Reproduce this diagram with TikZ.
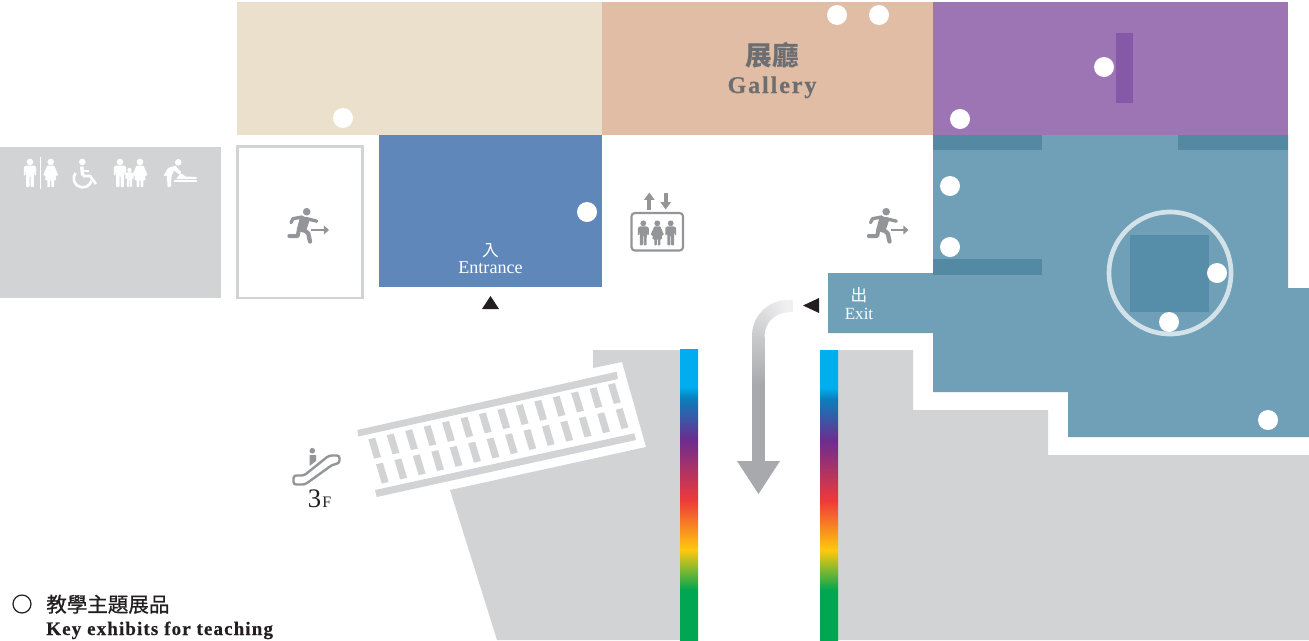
\documentclass[tikz,border=0pt]{standalone}
\usepackage{fontspec}
\usetikzlibrary{arrows.meta}
\setmainfont{Liberation Serif}
\newfontfamily\cjkf{Noto Sans CJK TC}
\newfontfamily\cjkm[FakeBold=0.8]{Noto Sans CJK TC}
\newfontfamily\gallf[LetterSpace=8,FakeBold=0.5]{Liberation Serif Bold}
\newfontfamily\keyf[LetterSpace=5.7,FakeBold=0.4]{Liberation Serif Bold}
\definecolor{floorgrey}{HTML}{D1D3D4}
\definecolor{icongrey}{HTML}{939598}
\definecolor{beige}{HTML}{EAE0CC}
\definecolor{peach}{HTML}{E0BDA4}
\definecolor{purp}{HTML}{9D75B5}
\definecolor{purpd}{HTML}{8659A8}
\definecolor{bluer}{HTML}{5F87BA}
\definecolor{teal}{HTML}{6FA0B7}
\definecolor{teald}{HTML}{5389A3}
\definecolor{tealm}{HTML}{568DA8}
\definecolor{ringc}{HTML}{D3E2E8}
\definecolor{arrowg}{HTML}{A7A9AC}
\definecolor{galltext}{HTML}{6D6E71}
\definecolor{ink}{HTML}{231F20}
\definecolor{rbg}{HTML}{00A651}
\definecolor{rby}{HTML}{FFC90E}
\definecolor{rbr}{HTML}{EE3A3A}
\definecolor{rbp}{HTML}{6D2C8F}
\definecolor{rbb}{HTML}{0A7FBD}
\definecolor{rbc}{HTML}{00AEEF}
\definecolor{shafttop}{HTML}{C9CACC}
\pgfdeclareverticalshading{rainbowbar}{100bp}{color(0bp)=(rbg); color(33.6bp)=(rbg); color(40.5bp)=(rby); color(49bp)=(rbr); color(59.4bp)=(rbp); color(66.6bp)=(rbb); color(68.5bp)=(rbc); color(100bp)=(rbc)}
\pgfdeclareverticalshading{shaftgrad}{100bp}{color(0bp)=(arrowg); color(55.4bp)=(arrowg); color(75bp)=(shafttop); color(100bp)=(shafttop)}
\tikzset{
  dot/.style={fill=white,draw=none,circle,inner sep=0pt,minimum size=20*0.75pt},
  maptext/.style={inner sep=0pt,font=\fontsize{13.6}{15}\selectfont,text=white},
  man/.pic={
    \fill (0,-11) circle (3.3);
    \fill[rounded corners=0.6] (-4,-7.5) -- (4,-7.5) -- (6.2,-6) -- (6.2,2.5) -- (4.6,2.5) -- (4,-3) -- (3.8,14) -- (0.5,14) -- (0.5,3) -- (-0.5,3) -- (-0.5,14) -- (-3.8,14) -- (-4,-3) -- (-4.6,2.5) -- (-6.2,2.5) -- (-6.2,-6) -- cycle;
  },
  woman/.pic={
    \fill (0,-11) circle (3.3);
    \fill[rounded corners=0.5] (-3.4,-7.5) -- (3.4,-7.5) -- (7.6,2) -- (5,3) -- (5.6,7) -- (3.4,7) -- (3.4,14) -- (0.6,14) -- (0.6,7) -- (-0.6,7) -- (-0.6,14) -- (-3.4,14) -- (-3.4,7) -- (-5.6,7) -- (-5,3) -- (-7.6,2) -- cycle;
  },
  runner/.pic={
    \fill (1.7,-13.3) circle (3.8);
    \fill[rounded corners=1] (-4.5,-9.6) -- (5.2,-6.4) -- (2.2,2.5) -- (-0.5,8) -- (-8.5,5.5) -- cycle;
    \draw[line width=2.5,line cap=round,line join=round] (1,-6.5) -- (11.8,-3.8);
    \draw[line width=2.5,line cap=round,line join=round] (-3,-8) -- (-12,-6.3) -- (-14,-2.3);
    \draw[line width=3,line cap=round,line join=round] (-6,4) -- (-7.3,11) -- (-15.7,11);
    \draw[line width=3.2,line cap=round,line join=round] (-3,3) -- (3.3,8.5) -- (5,16.5);
    \draw[line width=2.2] (6,5) -- (20,5);
    \fill (18.8,0.4) -- (24,5) -- (18.8,9.6) -- cycle;
  }
}
\begin{document}
\begin{tikzpicture}[x=0.75pt,y=-0.75pt]
\useasboundingbox (0,0) rectangle (1309,640);
\fill[white] (0,0) rectangle (1309,640);
% rooms
\fill[beige] (237,2) rectangle (602,135);
\fill[peach] (602,2) rectangle (933,135);
\fill[purp] (933,2) rectangle (1288,135);
\fill[purpd] (1116,33) rectangle (1133,103);
\fill[floorgrey] (0,147) rectangle (221,298);
\draw[floorgrey,line width=2.2pt] (237.5,146.5) rectangle (362.5,298);
\fill[bluer] (379,135) rectangle (602,287);
\fill[teal] (933,135) -- (1288,135) -- (1288,288) -- (1309,288) -- (1309,437) -- (1068,437) -- (1068,392) -- (933,392) -- (933,333) -- (828,333) -- (828,273) -- (933,273) -- cycle;
\fill[teald] (933,135) rectangle (1042,150);
\fill[teald] (1178,135) rectangle (1288,150);
\fill[teald] (933,259) rectangle (1042,275);
\fill[tealm] (1130,235) rectangle (1209,312);
\draw[ringc,line width=3.5pt] (1170,273) circle (61);
% lower floor
\fill[floorgrey] (593,350) -- (680,350) -- (680,640) -- (497,640) -- (450,490) -- (646,447) -- (622,362) -- (593,368) -- cycle;
\fill[floorgrey] (838,350) -- (913,350) -- (913,410) -- (1048,410) -- (1048,455) -- (1309,455) -- (1309,640) -- (838,640) -- cycle;
\shade[shading=rainbowbar] (680,349) rectangle (698,640);
\shade[shading=rainbowbar] (820,350) rectangle (838,640);
% escalator
\fill[floorgrey] (357.3,430) -- (616.7,371.7) -- (618,379) -- (358.3,436.5) -- cycle;
\fill[floorgrey] (375,490) -- (634.3,433.3) -- (636,440) -- (376.7,497) -- cycle;
\foreach \i in {0,...,13}{
  \fill[floorgrey,shift={({18.44*\i},{-4.2*\i})}] (368.3,439.3) -- (375.2,437.7) -- (381,457) -- (374.1,458.6) -- cycle;
  \fill[floorgrey,shift={({18.44*\i+7.67},{-4.2*\i+25})}] (368.3,439.3) -- (375.2,437.7) -- (381,457) -- (374.1,458.6) -- cycle;
}
% curved arrow
\fill[arrowg!17!white] (788,300) rectangle (793,312);
\foreach \a [evaluate=\a as \p using 17+44*\a/90] in {0,5,...,85}{
  \fill[arrowg!\p!white] ({788-36*sin(\a)},{336-36*cos(\a)}) -- ({788-36*sin(\a+6)},{336-36*cos(\a+6)}) -- ({788-23.5*sin(\a+6)},{336-23.5*cos(\a+6)}) -- ({788-23.5*sin(\a)},{336-23.5*cos(\a)}) -- cycle;
}
\shade[shading=shaftgrad] (752,336) rectangle (764.5,462);
\fill[arrowg] (737,461) -- (780,461) -- (758.5,494) -- cycle;
% triangles
\fill[ink] (482,309) -- (499,309) -- (490.5,296) -- cycle;
\fill[ink] (803,305.5) -- (819,298) -- (819,313) -- cycle;
% white dots
\foreach \n/\x/\y in {a/343/118,b/837/15,c/879/15,d/1104/67,e/960/119,f/587/212,g/950/186,h/950/247,i/1217/273,j/1169/322,k/1268/420}{
  \node[dot] (dot\n) at (\x,\y) {};
}
% restroom icons
\pic[color=white] at (30,173) {man};
\fill[white] (39.5,157) rectangle (41,189);
\pic[color=white] at (50.7,173) {woman};
\fill[white] (82.3,162) circle (3.3);
\draw[white,line width=2.6pt,line join=round] (81.7,166.5) -- (82.7,175.5);
\draw[white,line width=2pt,line join=round] (82.7,176) -- (90,176) -- (96,184);
\draw[white,line width=1.6pt] (82.7,170.7) -- (89,170.7);
\draw[white,line width=2pt] (75.6,173) arc[start angle=-143,end angle=-345,radius=9];
\pic[color=white] at (120,173) {man};
\pic[color=white,scale=0.68] at (129.5,177.5) {man};
\pic[color=white] at (140,173) {woman};
\fill[white] (178.3,162.3) circle (3.3);
\fill[white,rounded corners=0.6] (176,165.5) -- (168,168) -- (163.5,176) -- (167,175.5) -- (167.5,187) -- (171,187) -- (171.5,176) -- (174,170.5) -- (180,175) -- (181.5,172.5) -- (177,167.5) -- cycle;
\fill[white] (174.3,180) rectangle (197,181.5);
\fill[white,rounded corners=0.8] (180,174) -- (183,174) -- (185,176.5) -- (197,177) -- (197,179) -- (176,179) -- cycle;
% exit runners
\pic[color=icongrey] at (305,225) {runner};
\pic[color=icongrey] at (884.5,225) {runner};
% elevator
\draw[icongrey,line width=1.6pt,rounded corners=2.5] (631.5,213) rectangle (683,250.5);
\pic[color=icongrey,scale=0.88] at (643.3,233) {man};
\pic[color=icongrey,scale=0.88] at (657.3,233) {woman};
\pic[color=icongrey,scale=0.88] at (670.7,233) {man};
\draw[icongrey,line width=2.8pt,-{Triangle[width=7.5pt,length=5.5pt]}] (649.3,209.5) -- (649.3,192.5);
\draw[icongrey,line width=2.8pt,-{Triangle[width=7.5pt,length=5.5pt]}] (665.7,192.5) -- (665.7,209.5);
% escalator icon
\fill[icongrey] (312.3,450.7) circle (2.8);
\fill[icongrey] (309.5,455) -- (316,455) -- (316,461) -- (309.5,466) -- cycle;
\draw[icongrey,line width=1.8pt,line join=round,rounded corners=2] (293.5,484.5) -- (305,484.5) -- (332,465) -- (339.5,463) -- (339.5,455.5) -- (329,455.5) -- (304,475.5) -- (293.5,475.5) -- cycle;
\node[anchor=base west,inner sep=0pt,font=\fontsize{20}{22}\selectfont,text=ink] (lblthree) at (307.5,507) {3};
\node[anchor=base west,inner sep=0pt,font=\fontsize{12}{13}\selectfont,text=ink] (lblf) at (322,507) {F};
% labels
\node[maptext,font=\cjkf\fontsize{12.5}{14}\selectfont] (entcjk) at (490.5,251) {入};
\node[maptext,anchor=base] (enten) at (490.5,273.5) {Entrance};
\node[maptext,font=\cjkf\fontsize{12.5}{14}\selectfont] (excjk) at (859,295) {出};
\node[maptext,anchor=base,font=\fontsize{12.8}{14}\selectfont] (exen) at (859,319) {Exit};
\node[inner sep=0pt,text=galltext,font=\cjkf\bfseries\fontsize{20}{22}\selectfont] (galcjk) at (772,55) {展廳};
\node[anchor=base,inner sep=0pt,text=galltext,font=\gallf\fontsize{18}{20}\selectfont] (galen) at (772,93) {Gallery};
% legend
\draw[ink,line width=0.9pt] (22,604) circle (9) node (legcircle) {};
\node[anchor=base west,inner sep=0pt,text=ink,font=\cjkm\fontsize{15.4}{17}\selectfont] (legcjk) at (46,612) {教學主題展品};
\node[anchor=base west,inner sep=0pt,text=ink,font=\keyf\fontsize{14.3}{16}\selectfont] (legen) at (46,635) {Key exhibits for teaching};
\end{tikzpicture}
\end{document}
